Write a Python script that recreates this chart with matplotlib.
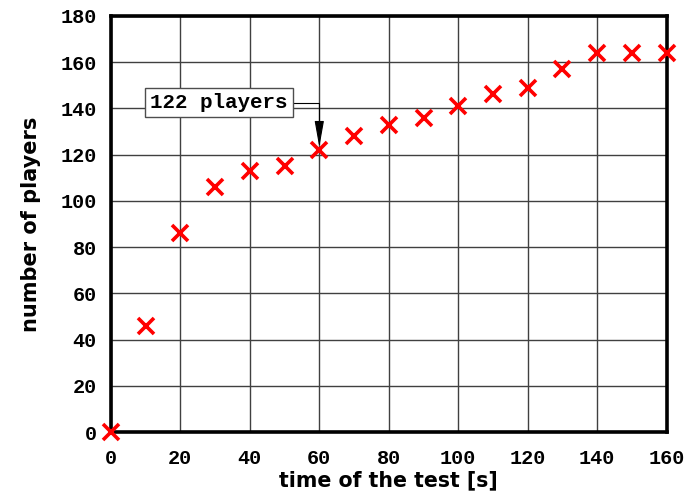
import matplotlib
matplotlib.use("Agg")
import matplotlib.pyplot as plt

# tiempo del test [s] y cantidad de jugadores
tiempo = [0, 10, 20, 30, 40, 50, 60, 70, 80, 90, 100, 110, 120, 130, 140, 150, 160]
jugadores = [0, 46, 86, 106, 113, 115, 122, 128, 133, 136, 141, 146, 149, 157, 164, 164, 164]

xticks = list(range(0, 161, 20))
yticks = list(range(0, 181, 20))

fig = plt.figure(figsize=(6.93, 4.96), dpi=100)
ax = fig.add_axes([0.160, 0.129, 0.802, 0.839])

ax.plot(tiempo, jugadores, linestyle="none", marker="x", color="red",
        markersize=11, markeredgewidth=2.6, clip_on=False, zorder=5)

ax.set_xlim(0, 160)
ax.set_ylim(0, 180)
ax.set_xticks(xticks)
ax.set_yticks(yticks)
ax.tick_params(axis="x", length=0, pad=12)
ax.tick_params(axis="y", length=0, pad=10)
for lab in ax.get_xticklabels() + ax.get_yticklabels():
    lab.set_fontfamily("Liberation Mono")
    lab.set_fontweight("bold")
    lab.set_fontsize(14.5)

ax.grid(True, color="0.25", linewidth=1)
for s in ax.spines.values():
    s.set_linewidth(2.6)

ax.set_xlabel("time of the test [s]", fontsize=14.8, fontweight="bold", labelpad=2)
ax.set_ylabel("number of players", fontsize=15, fontweight="bold", labelpad=14)

ax.annotate("122 players", xy=(60, 122), xytext=(31, 142.5),
            ha="center", va="center", family="Liberation Mono",
            fontweight="bold", fontsize=15,
            bbox=dict(boxstyle="square,pad=0.25", fc="white", ec="0.3", lw=1),
            arrowprops=dict(arrowstyle="-|>,head_length=0.9,head_width=0.16",
                            color="black", lw=0.8,
                            connectionstyle="angle,angleA=0,angleB=90,rad=0",
                            shrinkA=0, shrinkB=2, mutation_scale=18),
            zorder=6)

fig.savefig("out.png", dpi=100)
